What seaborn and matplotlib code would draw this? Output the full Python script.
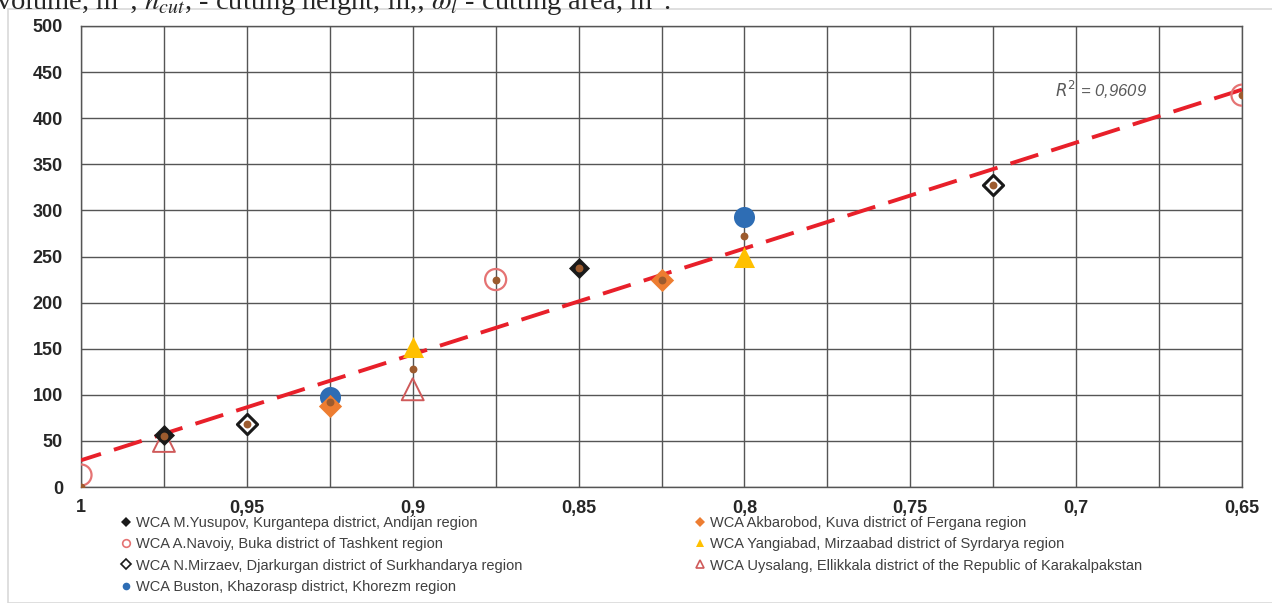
import numpy as np
import pandas as pd
import matplotlib
matplotlib.use("Agg")
import matplotlib.pyplot as plt
from matplotlib.lines import Line2D
from matplotlib.patches import Rectangle
import seaborn as sns

# values
yusupov_x = [0.975, 0.85]
yusupov_y = [56, 237]
akbarobod_x = [0.925, 0.825]
akbarobod_y = [88, 224]
navoiy_x = [1.0, 0.875, 0.65]
navoiy_y = [13, 225, 425]
yangiabad_x = [0.9, 0.8]
yangiabad_y = [152, 250]
mirzaev_x = [0.95, 0.725]
mirzaev_y = [68, 328]
uysalang_x = [0.975, 0.9]
uysalang_y = [50, 106]
buston_x = [0.925, 0.8]
buston_y = [98, 293]
# small brown dots (combined points)
avg_x = [1.0, 0.975, 0.95, 0.925, 0.9, 0.875, 0.85, 0.825, 0.8, 0.725, 0.65]
avg_y = [0, 55, 68, 92, 128, 225, 237, 224, 272, 328, 425]
# dashed trend line ends
trend_x = [1.0, 0.65]
trend_y = [29, 431]

x_ticks = [1.0, 0.95, 0.9, 0.85, 0.8, 0.75, 0.7, 0.65]
x_labels = ["1", "0,95", "0,9", "0,85", "0,8", "0,75", "0,7", "0,65"]
x_grid = [1.0, 0.975, 0.95, 0.925, 0.9, 0.875, 0.85, 0.825, 0.8, 0.775, 0.75, 0.725, 0.7, 0.675, 0.65]
y_ticks = [0, 50, 100, 150, 200, 250, 300, 350, 400, 450, 500]

names = {
    "yusupov": "WCA M.Yusupov, Kurgantepa district, Andijan region",
    "akbarobod": "WCA Akbarobod, Kuva district of Fergana region",
    "navoiy": "WCA A.Navoiy, Buka district of Tashkent region",
    "yangiabad": "WCA Yangiabad, Mirzaabad district of Syrdarya region",
    "mirzaev": "WCA N.Mirzaev, Djarkurgan district of Surkhandarya region",
    "uysalang": "WCA Uysalang, Ellikkala district of the Republic of Karakalpakstan",
    "buston": "WCA Buston, Khazorasp district, Khorezm region",
}

sns.set_style("white")
plt.rcParams["font.family"] = ["Liberation Sans", "DejaVu Sans"]

fig = plt.figure(figsize=(12.72, 6.03), dpi=100)
ax = fig.add_axes([81 / 1272, 1 - 487 / 603, (1242 - 81) / 1272, (487 - 26) / 603])

# light chart frame
fig.patches.append(Rectangle((8 / 1272, 0), 1.0, 1 - 9 / 603, transform=fig.transFigure,
                             fill=False, edgecolor="#d9d9d9", linewidth=1.2, zorder=0))

# grid
for gx in x_grid:
    ax.axvline(gx, color="#555555", linewidth=1.0, zorder=0)
for gy in y_ticks:
    ax.axhline(gy, color="#555555", linewidth=1.0, zorder=0)

trend = pd.DataFrame({"x": trend_x, "y": trend_y})
sns.lineplot(data=trend, x="x", y="y", ax=ax, color="#e8202a", linewidth=2.8,
             dashes=[(7.5, 3.5)], style=[0, 0], legend=False, zorder=3)

styles = {
    "navoiy": dict(marker="o", s=230, facecolor="none", edgecolor="#e57373", linewidth=1.6),
    "uysalang": dict(marker="^", s=250, facecolor="none", edgecolor="#cf5a5a", linewidth=1.4),
    "mirzaev": dict(marker="D", s=105, facecolor="white", edgecolor="#1a1a1a", linewidth=2.2),
    "buston": dict(marker="o", s=230, facecolor="#2e6db4", edgecolor="#2e6db4", linewidth=0),
    "yangiabad": dict(marker="^", s=230, facecolor="#ffc000", edgecolor="#ffc000", linewidth=0),
    "akbarobod": dict(marker="D", s=140, facecolor="#ed7d31", edgecolor="#ed7d31", linewidth=0),
    "yusupov": dict(marker="D", s=115, facecolor="#1a1a1a", edgecolor="#1a1a1a", linewidth=0),
}
series = {
    "navoiy": (navoiy_x, navoiy_y),
    "uysalang": (uysalang_x, uysalang_y),
    "mirzaev": (mirzaev_x, mirzaev_y),
    "buston": (buston_x, buston_y),
    "yangiabad": (yangiabad_x, yangiabad_y),
    "akbarobod": (akbarobod_x, akbarobod_y),
    "yusupov": (yusupov_x, yusupov_y),
}
for key, (sx, sy) in series.items():
    st = styles[key]
    sns.scatterplot(x=sx, y=sy, ax=ax, marker=st["marker"], s=st["s"],
                    facecolor=st["facecolor"], edgecolor=st["edgecolor"],
                    linewidth=st["linewidth"], zorder=4, legend=False)

sns.scatterplot(x=avg_x, y=avg_y, ax=ax, marker="o", s=32, color="#9c5b2e",
                linewidth=0, zorder=5, legend=False)

ax.set_xlim(1.0, 0.65)
ax.set_ylim(0, 500)
ax.set_xticks(x_ticks)
ax.set_xticklabels(x_labels)
ax.set_yticks(y_ticks)
ax.tick_params(length=0, labelsize=13)
ax.tick_params(axis="y", pad=13)
ax.tick_params(axis="x", pad=9)
for lab in ax.get_xticklabels() + ax.get_yticklabels():
    lab.set_fontweight("bold")
    lab.set_color("#262626")
ax.set_xlabel("")
ax.set_ylabel("")
for sp in ax.spines.values():
    sp.set_color("#555555")
    sp.set_linewidth(1.0)

ax.text(0.6925, 431, "$R^2$ = 0,9609", style="italic", color="#595959",
        fontsize=12, ha="center", va="center", zorder=6)

# caption line above the chart, clipped by the top edge as in the original page
fig.text(-0.003, 1 - 10 / 603, "volume, m$^3$; $h_{cut}$, - cutting height, m,; $\\omega_l$ - cutting area, m$^2$.",
         fontsize=20.5, family="Liberation Serif", va="baseline", ha="left",
         math_fontfamily="stix")


def handle(key):
    st = styles[key]
    return Line2D([], [], linestyle="none", marker=st["marker"], markersize=5.5,
                  markerfacecolor=st["facecolor"], markeredgecolor=st["edgecolor"],
                  markeredgewidth=1.2 if st["facecolor"] in ("none", "white") else 0)


left_keys = ["yusupov", "navoiy", "mirzaev", "buston"]
right_keys = ["akbarobod", "yangiabad", "uysalang"]
for keys, x0 in ((left_keys, 122 / 1272), (right_keys, 696 / 1272)):
    leg = fig.legend([handle(k) for k in keys], [names[k] for k in keys],
                     loc="upper left", bbox_to_anchor=(x0, 1 - 516 / 603),
                     frameon=False, fontsize=10.5, handlelength=0.6, handletextpad=0.35,
                     labelspacing=0.5, borderpad=0, borderaxespad=0)
    for t in leg.get_texts():
        t.set_color("#404040")

fig.savefig("out.png", dpi=100)
